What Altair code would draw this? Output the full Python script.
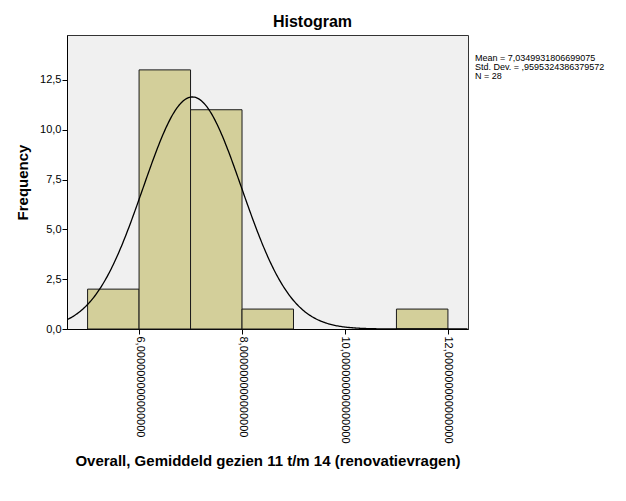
import altair as alt
import pandas as pd

# Histogram data
bin_start = [5, 6, 7, 8, 11]
bin_end = [6, 7, 8, 9, 12]
counts = [2, 13, 11, 1, 1]

mean_val = 7.0349931806699075
sd_val = 0.9595324386379572
n_val = 28
bin_width = 1.0

stats_lines = ["Mean = 7,0349931806699075", "Std. Dev. = ,9595324386379572", "N = 28"]

x_ticks = [6, 8, 10, 12]
y_ticks = [0, 2.5, 5, 7.5, 10, 12.5]
x_domain = [4.6, 12.39]
y_domain = [0, 14.75]

FONT = "Liberation Sans"

bars_df = pd.DataFrame({"start": bin_start, "end": bin_end, "count": counts})
stats_df = pd.DataFrame({"text": ["\n".join(stats_lines)]})

xscale = alt.Scale(domain=x_domain, nice=False, zero=False)
yscale = alt.Scale(domain=y_domain, nice=False)

x_axis = alt.Axis(
    values=x_ticks,
    labelExpr="replace(format(datum.value, '.15f'), '.', ',')",
    labelAngle=90,
    labelAlign="left",
    labelBaseline="middle",
    labelFont=FONT,
    labelFontSize=11,
    labelColor="#000000",
    labelPadding=2,
    tickColor="#000000",
    tickSize=5,
    domainColor="#000000",
    grid=False,
    title="Overall, Gemiddeld gezien 11 t/m 14 (renovatievragen)",
    titleFont=FONT,
    titleFontSize=15,
    titleFontWeight="bold",
    titleColor="#000000",
    titlePadding=10,
    labelFlush=False,
    labelOverlap=False,
)

y_axis = alt.Axis(
    values=y_ticks,
    labelExpr="replace(format(datum.value, '.1f'), '.', ',')",
    labelFont=FONT,
    labelFontSize=11,
    labelColor="#000000",
    labelPadding=1,
    tickColor="#000000",
    tickSize=5,
    domainColor="#000000",
    grid=False,
    title="Frequency",
    titleFont=FONT,
    titleFontSize=15,
    titleFontWeight="bold",
    titleColor="#000000",
    titlePadding=9,
    labelFlush=False,
)

bars = alt.Chart(bars_df).mark_bar(
    fill="#d3cf9a", stroke="#1a1a1a", strokeWidth=1, opacity=1
).encode(
    x=alt.X("start:Q", scale=xscale, axis=x_axis),
    x2="end:Q",
    y=alt.Y("count:Q", scale=yscale, axis=y_axis),
    y2=alt.datum(0),
)

curve = alt.Chart(bars_df).transform_aggregate(
    n="count()"
).transform_calculate(
    xs=f"sequence({x_domain[0]}, {x_domain[1]}, 0.02)"
).transform_flatten(["xs"]).transform_calculate(
    dens=f"{n_val} * {bin_width} / ({sd_val} * sqrt(2 * PI)) * exp(-0.5 * pow((datum.xs - {mean_val}) / {sd_val}, 2))"
).mark_line(color="#000000", strokeWidth=1.3, clip=True).encode(
    x=alt.X("xs:Q", scale=xscale),
    y=alt.Y("dens:Q", scale=yscale),
)

stats = alt.Chart(stats_df).mark_text(
    align="left", baseline="top", font=FONT, fontSize=9, color="#000000",
    lineHeight=9, lineBreak="\n",
).encode(
    x=alt.value(408),
    y=alt.value(19),
    text="text:N",
)

chart = alt.layer(bars, curve, stats).properties(
    width=401,
    height=294,
    title=alt.TitleParams(
        "Histogram", font=FONT, fontSize=16, fontWeight="bold", color="#000000",
        anchor="middle", offset=5, dx=45,
    ),
    autosize=alt.AutoSizeParams(type="none"),
    padding={"left": 67, "top": 35, "right": 158, "bottom": 172},
    background="#ffffff",
).configure_view(
    fill="#f0f0f0", stroke="#333333", strokeWidth=1
)

chart.save("out.html", embed_options={"renderer": "svg", "actions": False})
